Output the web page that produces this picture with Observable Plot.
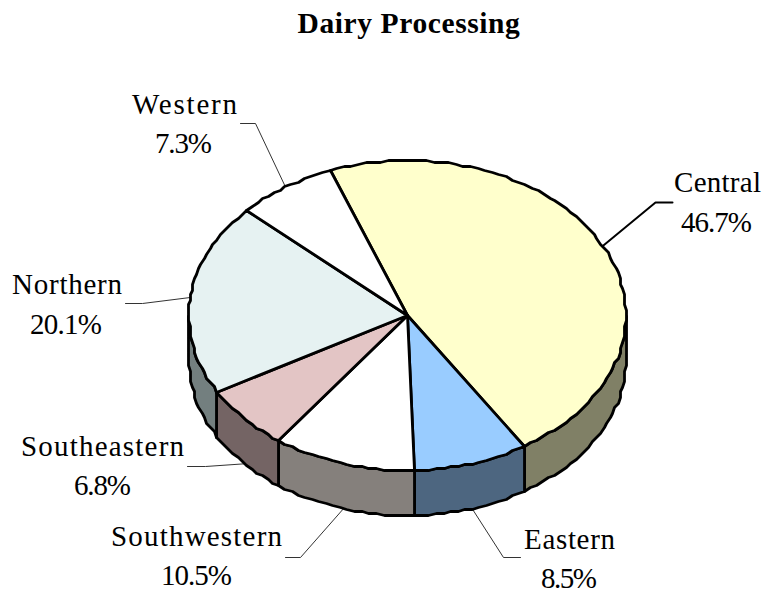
<!DOCTYPE html>
<html><head><meta charset="utf-8">
<script src="https://cdn.jsdelivr.net/npm/d3@7"></script>
<script src="https://cdn.jsdelivr.net/npm/@observablehq/plot@0.6"></script>
<style>
html,body{margin:0;background:#fff}
#t{height:48px;box-sizing:border-box;padding:3px 0 0 53px;text-align:center;font:bold 29.5px/40px "Liberation Serif",serif;letter-spacing:.6px;color:#000}
svg{display:block}
</style></head><body>
<div id="t">Dairy Processing</div>
<div id="c"></div>
<script>
const regions = ["Central","Eastern","Southwestern","Southeastern","Northern","Western"];
const shares = [46.7,8.5,10.5,6.8,20.1,7.3];
const topColors = ["#FFFFCC","#99CCFF","#FFFFFF","#E3C5C5","#E6F2F2","#FFFFFF"];
const sideColors = ["#808066","#4D6680","#85807C","#746464","#737F7F","#808080"];

// layout of the tilted disc
const cx=407, cy=315, rx=218.5, ry=155, depth=45, startDeg=-20.8, snap=2;
// label layout by region
const nameX=[717,569,196,102,66.5,184], nameY=[182,539,536,446,284,104];
const pctX=[716,568.5,196,102,65.5,183], pctY=[222,578,575,485,324,143];
const nameWidths=[87,91,171,163,110,105];
const pctWidths=[71,56,71,57,72,57];
const elbowX=[655,503,300,205,142,255], elbowY=[202,557,557,466,303,123];
const tailX=[672,520,285,187,125,240];

const total=d3.sum(shares);
const rad=d=>d*Math.PI/180;
const px=a=>Math.round((cx+rx*Math.sin(rad(a)))/snap)*snap;
const py=(a,dz=0)=>Math.round((cy-ry*Math.cos(rad(a)))/snap)*snap+dz;
function arc(a0,a1){const n=Math.max(2,Math.ceil(Math.abs(a1-a0)/2));return d3.range(n+1).map(i=>a0+(a1-a0)*i/n);}

let cum=startDeg;
const slices=regions.map((name,i)=>{const a0=cum,a1=cum+shares[i]/total*360;cum=a1;return {name,i,a0,a1,mid:(a0+a1)/2};});

const sideRows=[],topRows=[];
for(const s of slices){
  const lo=Math.max(s.a0,90),hi=Math.min(s.a1,270);
  if(hi>lo){
    const a=arc(lo,hi);
    const pts=[...a.map(t=>({x:px(t),y:py(t)})),...a.slice().reverse().map(t=>({x:px(t),y:py(t,depth)}))];
    pts.push(pts[0]);
    pts.forEach(p=>sideRows.push({...p,id:s.name,fill:sideColors[s.i]}));
  }
  const pts=[{x:cx,y:cy},...arc(s.a0,s.a1).map(t=>({x:px(t),y:py(t)})),{x:cx,y:cy}];
  pts.forEach(p=>topRows.push({...p,id:s.name,fill:topColors[s.i]}));
}
const leaders=[];
slices.forEach(s=>{
  const m=((s.mid%360)+360)%360, dz=(m>90&&m<270)?depth:0;
  const ax=cx+rx*Math.sin(rad(s.mid)), ay=cy-ry*Math.cos(rad(s.mid))+dz;
  [[ax,ay],[elbowX[s.i],elbowY[s.i]],[tailX[s.i],elbowY[s.i]]].forEach(([x,y])=>leaders.push({x,y,id:s.name,central:s.i===0}));
});
const nameRows=slices.map(s=>({x:nameX[s.i],y:nameY[s.i],text:s.name}));
const pctRows=slices.map(s=>({x:pctX[s.i],y:pctY[s.i],text:shares[s.i].toFixed(1)+"%"}));
const pctTexts=pctRows.map(d=>d.text);

const chart=Plot.plot({
  width:765,height:546,margin:0,
  x:{domain:[0,765],range:[0,765],axis:null},
  y:{domain:[48,594],range:[0,546],axis:null},
  style:{background:"#fff",fontFamily:"'Liberation Serif',serif"},
  marks:[
    Plot.line(leaders.filter(d=>!d.central),{x:"x",y:"y",z:"id",stroke:"#333",strokeWidth:1}),
    Plot.line(leaders.filter(d=>d.central),{x:"x",y:"y",z:"id",stroke:"#000",strokeWidth:2}),
    Plot.line(sideRows,{x:"x",y:"y",z:"id",fill:"fill",stroke:"#000",strokeWidth:2.8,strokeLinejoin:"round",curve:"linear"}),
    Plot.line(topRows,{x:"x",y:"y",z:"id",fill:"fill",stroke:"#000",strokeWidth:2.8,strokeLinejoin:"round",curve:"linear"}),
    Plot.text(nameRows,{x:"x",y:"y",text:"text",fontSize:29,lineAnchor:"middle",textAnchor:"middle",fill:"#000"}),
    Plot.text(pctRows,{x:"x",y:"y",text:"text",fontSize:29,lineAnchor:"middle",textAnchor:"middle",fill:"#000"})
  ]
});
// the reference sets its labels to slightly different widths than the natural ones
d3.select(chart).selectAll("text").each(function(){
  const i=regions.indexOf(this.textContent), j=pctTexts.indexOf(this.textContent);
  const w=i>=0?nameWidths[i]:j>=0?pctWidths[j]:null;
  if(w){this.setAttribute("textLength",w);this.setAttribute("lengthAdjust","spacing");}
});
document.getElementById("c").appendChild(chart);
</script>
</body></html>
